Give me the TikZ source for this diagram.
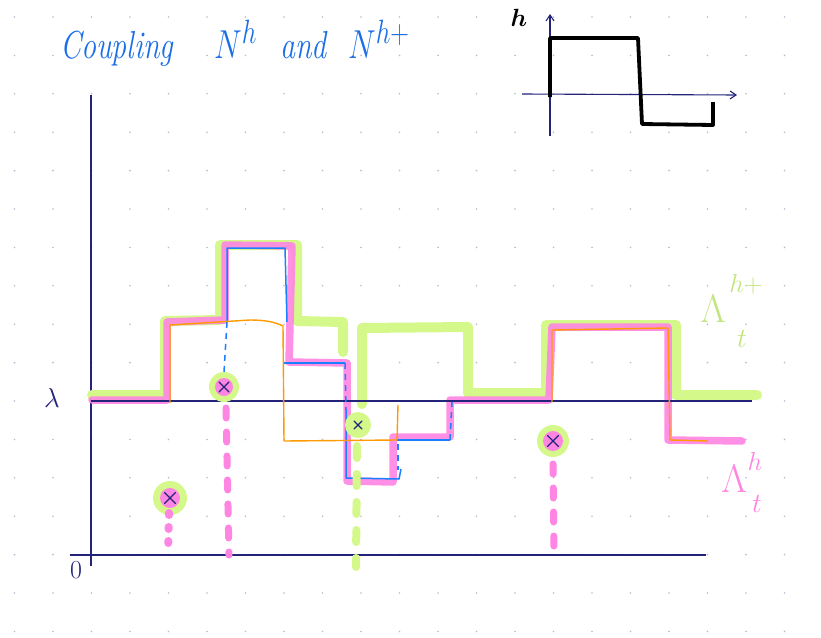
\documentclass[tikz,border=0pt]{standalone}
\usepackage{amsmath,amssymb,bm}
\usetikzlibrary{arrows.meta}
\definecolor{navy}{HTML}{23237A}
\definecolor{lgreen}{HTML}{D4F98A}
\definecolor{lpink}{HTML}{FF85E3}
\definecolor{pblue}{HTML}{1A80FF}
\definecolor{porange}{HTML}{FF9A00}
\definecolor{tblue}{HTML}{1A6FE8}
\definecolor{griddot}{HTML}{B4BCD4}
\tikzset{
  greenline/.style={lgreen, line width=10pt, line cap=round, line join=round},
  pinkline/.style={lpink, line width=7.5pt, line cap=round, line join=round, opacity=0.9},
  blueline/.style={pblue, line width=1.5pt, line join=round},
  orangeline/.style={porange, line width=1.4pt, line join=round},
  axisline/.style={navy, line width=1.2pt},
  inkline/.style={black, line width=3.8pt, line join=round},
  ptmark/.style={circle, inner sep=0pt, minimum size=#1},
  crossline/.style={navy, line width=1.3pt, line cap=round},
  titletext/.style={tblue, anchor=base west, inner sep=0pt, font=\fontsize{30}{34}\selectfont\itshape},
  biglam/.style={inner sep=0pt, font=\Huge},
  smalllab/.style={inner sep=0pt, font=\LARGE\itshape},
}
\newcommand{\tallish}[1]{\scalebox{1}[1.3]{#1}}
\newcommand{\crossat}[2]{%
  \draw[crossline] ([shift={(-#2,-#2)}]#1.center) -- ([shift={(#2,#2)}]#1.center);
  \draw[crossline] ([shift={(-#2,#2)}]#1.center) -- ([shift={(#2,-#2)}]#1.center);}
\begin{document}
\begin{tikzpicture}[x=1pt,y=-1pt]
\useasboundingbox (0,0) rectangle (821,637);
\fill[white] (0,0) rectangle (821,637);
% dot grid
\foreach \i in {0,...,21}{
  \foreach \j in {0,...,16}{
    \fill[griddot] (14.5+38.5*\i,17+38.4*\j) circle (0.9);
  }
}
% title
\node[titletext] (t1) at (60,58) {\tallish{Coupling}};
\node[titletext] (t2) at (214,58) {\tallish{\scalebox{1.25}{$N^{h}$}}};
\node[titletext] (t3) at (280,58) {\tallish{and}};
\node[titletext] (t4) at (348,58) {\tallish{\scalebox{1.25}{$N^{h+}$}}};
% inset
\node[font=\Huge, inner sep=0pt] (hlab) at (519,18) {$\bm{h}$};
\coordinate (iy0) at (550,136);
\coordinate (iy1) at (550,14);
\coordinate (ix0) at (522,94);
\coordinate (ix1) at (737,95);
\draw[navy, line width=1.1pt, -{Straight Barb[length=6pt,width=8pt]}] (iy0) -- (iy1);
\draw[navy, line width=1.1pt, -{Straight Barb[length=6pt,width=8pt]}] (ix0) -- (ix1);
\draw[inkline] (550,97) -- (550,38) -- (638,38) -- (642,124) -- (713,125) -- (713,102);
% main axes
\coordinate (vy0) at (91,566);
\coordinate (vy1) at (91,95);
\coordinate (hx0) at (70,555);
\coordinate (hx1) at (706,555);
\draw[axisline] (vy0) -- (vy1);
\draw[axisline] (hx0) -- (hx1);
\node[navy, inner sep=0pt, font=\Huge] (lam) at (52,398) {\scalebox{1.1}{$\lambda$}};
\node[navy, inner sep=0pt, font=\LARGE] (zero) at (76,570) {\scalebox{1.5}{$0$}};
% green Lambda^{h+}
\draw[greenline] (92,395) -- (165,395) -- (165,321) -- (220,320) -- (220,245) -- (297,245) -- (297,321) -- (343,322) -- (343,352);
\draw[greenline] (362,404) -- (362,328) -- (468,327) -- (468,393) -- (546,393) -- (546,325) -- (676,325) -- (676,395) -- (757,395);
% pink Lambda^h
\draw[pinkline] (92,400) -- (167,400) -- (167,322) -- (225,320) -- (225,245) -- (292,246) -- (289,362) -- (347,363) -- (347,481) -- (393,482) -- (393,437) -- (450,437) -- (450,400) -- (549,400) -- (552,327) -- (668,327) -- (668,440) -- (742,441);
% lambda level line
\coordinate (lx0) at (91,401);
\coordinate (lx1) at (752,401);
\draw[axisline] (lx0) -- (lx1);
% blue path
\draw[blueline] (227,322) -- (227,248) -- (285,248) -- (287,322);
\draw[blueline] (283,363) -- (345,363);
\draw[blueline] (346,410) -- (346,478) -- (399,479) -- (401,469);
\draw[blueline] (397,440) -- (450,440);
\draw[blueline, dash pattern=on 6pt off 5pt] (227,322) -- (224,372);
\draw[blueline, dash pattern=on 6pt off 5pt] (345,363) -- (346,410);
\draw[blueline, dash pattern=on 6pt off 5pt] (398,444) -- (398,470);
\draw[blueline, dash pattern=on 6pt off 5pt] (450,440) -- (452,402);
% orange path
\draw[orangeline] (170,403) -- (170,325) -- (250,320) .. controls (265,320) and (275,322) .. (283,326) -- (284,441) -- (397,440) -- (398,405);
\draw[orangeline] (552,402) -- (552,330) -- (668,328) -- (670,440) -- (708,441);
% points
\node[ptmark=34pt, fill=lgreen] (p1g) at (170,498) {};
\node[ptmark=20pt, fill=lpink] (p1) at (170,498) {};
\node[ptmark=30pt, fill=lgreen] (p2g) at (224,387) {};
\node[ptmark=18pt, fill=lpink] (p2) at (224,387) {};
\node[ptmark=26pt, fill=lgreen] (p3) at (358,425) {};
\node[ptmark=32pt, fill=lgreen] (p4g) at (553,441) {};
\node[ptmark=20pt, fill=lpink] (p4) at (553,441) {};
% drop lines
\coordinate (d1) at (168,553);
\coordinate (d2) at (229,555);
\coordinate (d3) at (356,567);
\coordinate (d4) at (554,557);
\draw[lpink, line width=8pt, line cap=round, dash pattern=on 2pt off 12pt] (169,513) -- (d1);
\draw[lpink, line width=7pt, line cap=round, dash pattern=on 10pt off 14pt] (226,408) -- (d2);
\draw[lgreen, line width=8pt, line cap=round, dash pattern=on 12pt off 16pt] (357,446) -- (d3);
\draw[lpink, line width=7pt, line cap=round, dash pattern=on 10pt off 14pt] (553,464) -- (d4);
\crossat{p1}{5.5}
\crossat{p2}{5}
\crossat{p3}{4}
\crossat{p4}{5.5}
% labels
\node[biglam, lgreen!92!black] (lhp) at (713,309) {\scalebox{1.6}{$\Lambda$}};
\node[smalllab, lgreen!92!black] (lhps) at (746,284) {\scalebox{1.5}{$h+$}};
\node[smalllab, lgreen!92!black] (lhpt) at (742,339) {\scalebox{1.6}{$t$}};
\node[biglam, lpink] (lh) at (734,479) {\scalebox{1.6}{$\Lambda$}};
\node[smalllab, lpink] (lhs) at (755,461) {\scalebox{1.5}{$h$}};
\node[smalllab, lpink] (lht) at (757,504) {\scalebox{1.6}{$t$}};
\end{tikzpicture}
\end{document}
